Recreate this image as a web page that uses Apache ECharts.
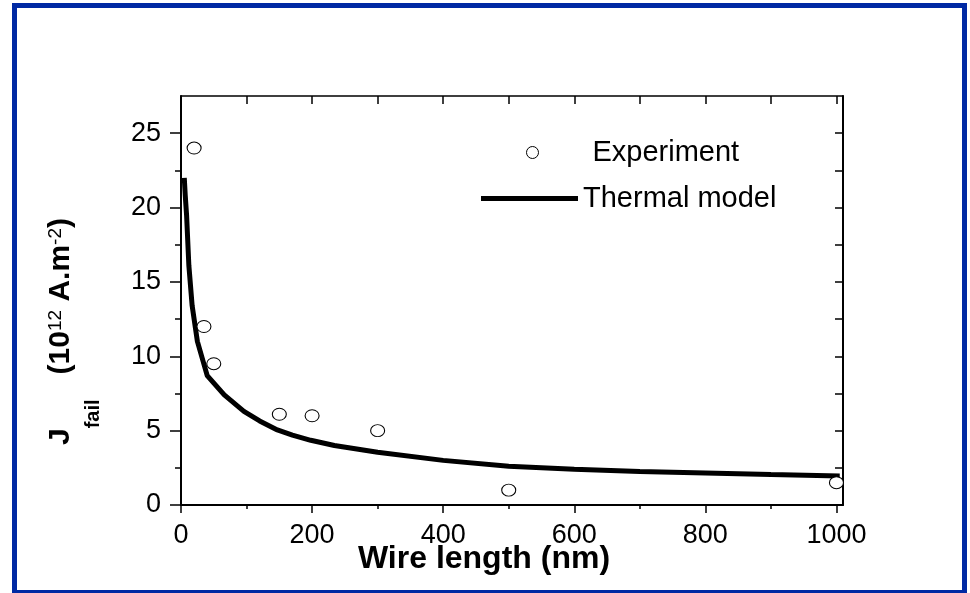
<!DOCTYPE html>
<html>
<head>
<meta charset="utf-8">
<script src="https://cdn.jsdelivr.net/npm/echarts@6/dist/echarts.min.js"></script>
<style>
  html, body { margin: 0; padding: 0; background: #fff; }
  #wrap { position: relative; width: 970px; height: 593px; }
  #chart { position: absolute; left: 0; top: 0; width: 970px; height: 593px; }
  #frame { position: absolute; left: 12px; top: 3px; width: 955px; height: 590px;
           box-sizing: border-box; border: 5px solid #0029a3; border-bottom-width: 3px;
           pointer-events: none; }
</style>
</head>
<body>
<div id="wrap">
  <div id="chart"></div>
  <div id="frame"></div>
</div>
<script>
// ---- data ----
const expX = [20, 35, 50, 150, 200, 300, 500, 1000];
const expY = [24.0, 12.0, 9.5, 6.1, 6.0, 5.0, 1.0, 1.5];

const modelX = [5, 6.5, 8.5, 12, 17, 25, 40, 66, 96, 120, 147, 170, 198, 234, 300, 400, 500, 600, 700, 800, 900, 1005];
const modelY = [22.0, 20.8, 19.5, 16.1, 13.4, 11.0, 8.7, 7.4, 6.3, 5.65, 5.05, 4.7, 4.35, 4.0, 3.55, 3.0, 2.6, 2.4, 2.25, 2.15, 2.05, 1.95];

const xMajorTicks = [0, 200, 400, 600, 800, 1000];
const xMinorTicks = [100, 300, 500, 700, 900];
const xTopTicks = [0, 100, 200, 300, 400, 500, 600, 700, 800, 900, 1000];
const yMajorTicks = [0, 5, 10, 15, 20, 25];
const yMinorTicks = [2.5, 7.5, 12.5, 17.5, 22.5];
const yRightTicks = [0, 2.5, 5, 7.5, 10, 12.5, 15, 17.5, 20, 22.5, 25];

const seriesNames = ['Experiment', 'Thermal model'];
const xName = 'Wire length (nm)';

// ---- chart ----
const FONT = "'Liberation Sans', Arial, sans-serif";
const X_MIN = 0, X_MAX = 1010, Y_MIN = 0, Y_MAX = 27.5;

const chart = echarts.init(document.getElementById('chart'), null, { renderer: 'canvas' });

function baseX(extra) {
  return Object.assign({
    type: 'value', min: X_MIN, max: X_MAX,
    splitLine: { show: false },
    axisLine: { show: false },
    axisLabel: { show: false },
    axisTick: { show: false }
  }, extra);
}
function baseY(extra) {
  return Object.assign({
    type: 'value', min: Y_MIN, max: Y_MAX,
    splitLine: { show: false },
    axisLine: { show: false },
    axisLabel: { show: false },
    axisTick: { show: false }
  }, extra);
}

const option = {
  backgroundColor: '#ffffff',
  animation: false,
  grid: { left: 181, top: 96, right: 127, bottom: 88, containLabel: false },
  legend: [
    {
      data: [{ name: seriesNames[0], icon: 'circle',
               itemStyle: { color: '#ffffff', borderColor: '#000000', borderWidth: 1 } }],
      left: 526, top: 138, padding: 0,
      itemWidth: 14, itemHeight: 12,
      textStyle: { fontFamily: FONT, fontSize: 29, color: '#000', padding: [0, 0, 0, 48] }
    },
    {
      data: [{ name: seriesNames[1], icon: 'rect', itemStyle: { color: '#000' } }],
      left: 481, top: 184, padding: 0,
      itemWidth: 97, itemHeight: 5,
      textStyle: { fontFamily: FONT, fontSize: 29, color: '#000' }
    }
  ],
  xAxis: [
    baseX({
      position: 'bottom',
      name: xName,
      nameLocation: 'middle',
      nameGap: 38,
      nameMoveOverlap: false,
      nameTextStyle: { fontFamily: FONT, fontSize: 32, fontWeight: 'bold', color: '#000', padding: [0, 56, 0, 0] },
      axisLine: { show: true, onZero: false, lineStyle: { color: '#000', width: 2 } },
      axisTick: { show: true, inside: false, length: 8, customValues: xMajorTicks, lineStyle: { color: '#000', width: 1.5 } },
      axisLabel: { show: true, margin: 17, customValues: xMajorTicks, formatter: v => String(v),
                   fontFamily: FONT, fontSize: 27, color: '#000' }
    }),
    baseX({
      position: 'bottom',
      axisTick: { show: true, inside: false, length: 4, customValues: xMinorTicks, lineStyle: { color: '#000', width: 1.5 } }
    }),
    baseX({
      position: 'top',
      axisLine: { show: true, onZero: false, lineStyle: { color: '#000', width: 1.5 } },
      axisTick: { show: true, inside: true, length: 8, customValues: xTopTicks, lineStyle: { color: '#000', width: 1.5 } }
    })
  ],
  yAxis: [
    baseY({
      position: 'left',
      name: '{m|J}{s|fail}{m|   (10}{p|12}{m| A.m}{p|-2}{m|)}',
      nameLocation: 'middle',
      nameRotate: 90,
      nameGap: 78,
      nameMoveOverlap: false,
      nameTextStyle: {
        color: '#000',
        padding: [0, 62, 0, 0],
        rich: {
          m: { fontFamily: FONT, fontSize: 30, fontWeight: 'bold', color: '#000', lineHeight: 10, verticalAlign: 'top' },
          s: { fontFamily: FONT, fontSize: 20, fontWeight: 'bold', color: '#000', lineHeight: 57, verticalAlign: 'bottom' },
          p: { fontFamily: FONT, fontSize: 19, color: '#000', lineHeight: 10, verticalAlign: 'top' }
        }
      },
      axisLine: { show: true, onZero: false, lineStyle: { color: '#000', width: 2 } },
      axisTick: { show: true, inside: false, length: 11, customValues: yMajorTicks, lineStyle: { color: '#000', width: 1.5 } },
      axisLabel: { show: true, margin: 20, customValues: yMajorTicks, fontFamily: FONT, fontSize: 27, color: '#000' }
    }),
    baseY({
      position: 'left',
      axisTick: { show: true, inside: false, length: 6, customValues: yMinorTicks, lineStyle: { color: '#000', width: 1.5 } }
    }),
    baseY({
      position: 'right',
      axisLine: { show: true, onZero: false, lineStyle: { color: '#000', width: 2 } },
      axisTick: { show: true, inside: true, length: 8, customValues: yRightTicks, lineStyle: { color: '#000', width: 1.5 } }
    })
  ],
  series: [
    {
      name: seriesNames[0],
      type: 'scatter',
      xAxisIndex: 0, yAxisIndex: 0,
      symbol: 'circle',
      symbolSize: [14, 12],
      itemStyle: { color: '#ffffff', borderColor: '#000000', borderWidth: 1, opacity: 1 },
      z: 3,
      data: expX.map((x, i) => [x, expY[i]])
    },
    {
      name: seriesNames[1],
      type: 'line',
      xAxisIndex: 0, yAxisIndex: 0,
      symbol: 'none',
      smooth: false,
      lineStyle: { color: '#000', width: 5 },
      itemStyle: { color: '#000' },
      z: 2,
      data: modelX.map((x, i) => [x, modelY[i]])
    }
  ]
};

chart.setOption(option);
</script>
</body>
</html>
